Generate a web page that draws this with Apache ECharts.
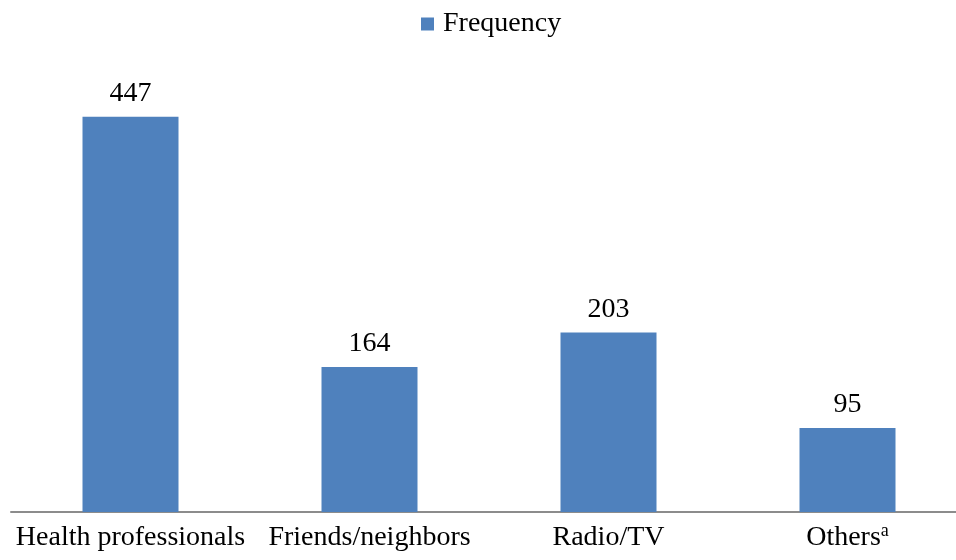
<!DOCTYPE html>
<html><head><meta charset="utf-8">
<script src="https://cdn.jsdelivr.net/npm/echarts@6/dist/echarts.min.js"></script>
<style>html,body{margin:0;padding:0;background:#fff;overflow:hidden}#c{width:975px;height:560px}</style>
</head><body><div id="c"></div>
<script>
const categories = ['Health professionals', 'Friends/neighbors', 'Radio/TV', 'Others'];
const frequency = [447, 164, 203, 95];
const seriesName = 'Frequency';

const chart = echarts.init(document.getElementById('c'));
const font = 'Liberation Serif, Times New Roman, serif';
chart.setOption({
  animation: false,
  legend: {
    top: 5, left: 416,
    itemWidth: 13, itemHeight: 13, itemGap: 8,
    icon: 'rect',
    textStyle: {fontFamily: font, fontSize: 28, color: '#000', padding: [0, 0, 0, 4]},
    data: [seriesName]
  },
  grid: {left: 11, width: 956, top: 70, bottom: 48, containLabel: false},
  xAxis: {
    type: 'category', data: categories,
    axisLine: {lineStyle: {color: '#8c8c8c', width: 2}},
    axisTick: {show: false},
    axisLabel: {
      interval: 0, hideOverlap: false,
      fontFamily: font, fontSize: 28, color: '#000', margin: 10, lineHeight: 32,
      formatter: v => v === 'Others' ? '{b|Others}{sup|a}' : v,
      rich: {
        b: {fontFamily: font, fontSize: 28, color: '#000', lineHeight: 32},
        sup: {fontFamily: font, fontSize: 18, color: '#000', lineHeight: 18, verticalAlign: 'top'}
      }
    }
  },
  yAxis: {type: 'value', min: 0, max: 500, show: false, splitLine: {show: false}},
  series: [{
    name: seriesName, type: 'bar', data: frequency, barWidth: 96,
    itemStyle: {color: '#4F81BD'},
    label: {show: true, position: 'top', distance: 9, fontFamily: font, fontSize: 28, color: '#000'}
  }]
});
</script></body></html>
